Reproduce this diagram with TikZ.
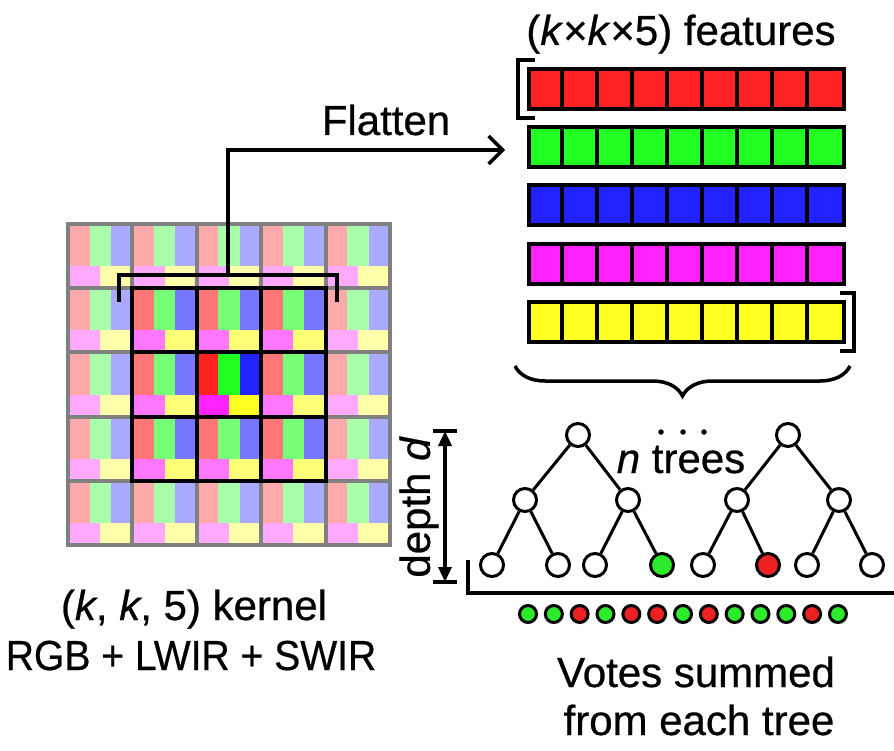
\documentclass[tikz,border=0pt]{standalone}
\usepackage{fontspec}
\setmainfont{Liberation Sans}[FakeBold=0.6]
\usetikzlibrary{decorations.pathreplacing,arrows.meta,calc}

\definecolor{Ra}{HTML}{FFAAAA}\definecolor{Ga}{HTML}{AAFFAA}\definecolor{Ba}{HTML}{AAAAFF}\definecolor{Ma}{HTML}{FFAAFF}\definecolor{Ya}{HTML}{FFFFAA}
\definecolor{Rb}{HTML}{FF7777}\definecolor{Gb}{HTML}{77FF77}\definecolor{Bb}{HTML}{7777FF}\definecolor{Mb}{HTML}{FF77FF}\definecolor{Yb}{HTML}{FFFF77}
\definecolor{Rc}{HTML}{FF2222}\definecolor{Gc}{HTML}{22FF22}\definecolor{Bc}{HTML}{2222FF}\definecolor{Mc}{HTML}{FF22FF}\definecolor{Yc}{HTML}{FFFF22}
\definecolor{gridgray}{HTML}{808080}
\definecolor{leafgreen}{HTML}{2BEB2B}
\definecolor{leafred}{HTML}{EE2222}

% one kernel pixel: #1,#2 = top-left of cell, #3 = colour suffix
\newcommand{\kcell}[3]{%
  \fill[R#3] (#1+2,#2+2) rectangle (#1+21.5,#2+42.1);
  \fill[G#3] (#1+21.5,#2+2) rectangle (#1+43,#2+42.1);
  \fill[B#3] (#1+43,#2+2) rectangle (#1+62.4,#2+42.1);
  \fill[M#3] (#1+2,#2+42.1) rectangle (#1+32.2,#2+62.2);
  \fill[Y#3] (#1+32.2,#2+42.1) rectangle (#1+62.4,#2+62.2);
}

\begin{document}
\begin{tikzpicture}[x=1pt,y=-1pt,
  txt/.style={font=\fontsize{42}{48}\selectfont, inner sep=0pt, anchor=base},
  blk/.style={line width=3.5pt, black},
  graygrid/.style={line width=4pt, gridgray, line cap=rect},
  blockgrid/.style={line width=4pt, black, line cap=rect},
  bar/.style={draw=black, line width=4pt, minimum width=315pt, minimum height=40pt, inner sep=0pt},
  tnode/.style={circle, draw=black, line width=3pt, fill=white, minimum size=23pt, inner sep=0pt},
  edge/.style={line width=3pt, black},
  vote/.style={circle, draw=black, line width=3pt, minimum size=17pt, inner sep=0pt},
  dotn/.style={circle, fill=black, minimum size=5.5pt, inner sep=0pt},
]
\useasboundingbox (0,0) rectangle (894,751);
\fill[white] (0,0) rectangle (894,751);

% ---------- kernel grid ----------
\foreach \i in {0,...,4}{
  \foreach \j in {0,...,4}{
    \kcell{68+64.4*\i}{224+64.2*\j}{a}
  }
}
\foreach \i in {1,2,3}{
  \foreach \j in {1,2,3}{
    \kcell{68+64.4*\i}{224+64.2*\j}{b}
  }
}
\kcell{196.8}{352.4}{c}
\foreach \k in {0,...,5}{
  \draw[graygrid] (68+64.4*\k,224) -- (68+64.4*\k,545);
  \draw[graygrid] (68,224+64.2*\k) -- (390,224+64.2*\k);
}
\foreach \k in {1,...,4}{
  \draw[blockgrid] (68+64.4*\k,288.2) -- (68+64.4*\k,480.8);
  \draw[blockgrid] (132.4,224+64.2*\k) -- (325.6,224+64.2*\k);
}

% bracket above the 3x3 block and flatten arrow
\draw[blk] (119,302) -- (119,275) -- (337,275) -- (337,302);
\coordinate (kbtop) at (228,275);
\coordinate (fl) at (228,150);

% ---------- feature bars ----------
\foreach \c [count=\b from 0] in {Rc,Gc,Bc,Mc,Yc}{
  \node[bar, fill=\c] (bar\b) at (686.5,89+58.25*\b) {};
  \foreach \s in {1,...,8}{
    \draw[line width=4pt] ($(bar\b.north west)+(35*\s,0)$) -- ($(bar\b.south west)+(35*\s,0)$);
  }
}
\draw[blk] (535,60) -- (518,60) -- (518,118) -- (535,118);
\draw[blk] (840,293) -- (854,293) -- (854,351) -- (840,351);
\draw[blk, decorate, decoration={brace, amplitude=30pt, aspect=0.5}] (850,366) -- (515,366);

\draw[blk, -{Straight Barb[length=14pt,width=28pt]}] (kbtop) -- (fl) -- (fl -| bar1.west) [shorten >=22pt];

% ---------- texts ----------
\node[txt] (title) at (681,45) {(\textit{k}×\textit{k}×5) features};
\node[txt] (flat) at (386,135) {Flatten};
\node[txt] (kern1) at (194,620) {(\textit{k}, \textit{k}, 5) kernel};
\node[txt] (kern2) at (191,670) {\scalebox{0.93}[1]{RGB + LWIR + SWIR}};
\node[txt] (votes1) at (696,687) {Votes summed};
\node[txt] (votes2) at (699,735) {from each tree};
\node[txt] (ntrees) at (681,473) {\textit{n} trees};
\node[txt, rotate=90, anchor=center] (depth) at (419,507) {depth \textit{d}};

% ---------- depth arrow ----------
\coordinate (dtop) at (445,431);
\coordinate (dbot) at (445,582);
\draw[blk, {Triangle[length=15pt,width=13pt]}-{Triangle[length=15pt,width=13pt]}] (dtop) -- (dbot);
\draw[blk] (433,431) -- (457,431);
\draw[blk] (433,582) -- (457,582);

% ---------- trees ----------
\node[tnode] (r1) at (578,435) {};
\node[tnode] (a1) at (525,500) {};
\node[tnode] (b1) at (628,500) {};
\node[tnode] (l11) at (492,565) {};
\node[tnode] (l12) at (558,565) {};
\node[tnode] (l13) at (595,565) {};
\node[tnode, fill=leafgreen] (l14) at (662,565) {};
\node[tnode] (r2) at (788,435) {};
\node[tnode] (a2) at (737,500) {};
\node[tnode] (b2) at (839,500) {};
\node[tnode] (l21) at (703,565) {};
\node[tnode, fill=leafred] (l22) at (768,565) {};
\node[tnode] (l23) at (807,565) {};
\node[tnode] (l24) at (872,565) {};
\foreach \p/\q in {r1/a1,r1/b1,a1/l11,a1/l12,b1/l13,b1/l14,r2/a2,r2/b2,a2/l21,a2/l22,b2/l23,b2/l24}{
  \draw[edge] (\p) -- (\q);
}
\node[dotn] (d1) at (661,432) {};
\node[dotn] (d2) at (683,432) {};
\node[dotn] (d3) at (704,432) {};

\draw[blk] (468,560) -- (468,593) -- (894,593);

% ---------- votes ----------
\foreach \c [count=\i from 0] in {leafgreen,leafgreen,leafred,leafgreen,leafred,leafred,leafgreen,leafred,leafgreen,leafgreen,leafgreen,leafred,leafgreen}{
  \node[vote, fill=\c] (v\i) at (528+25.83*\i,614) {};
}
\end{tikzpicture}
\end{document}
